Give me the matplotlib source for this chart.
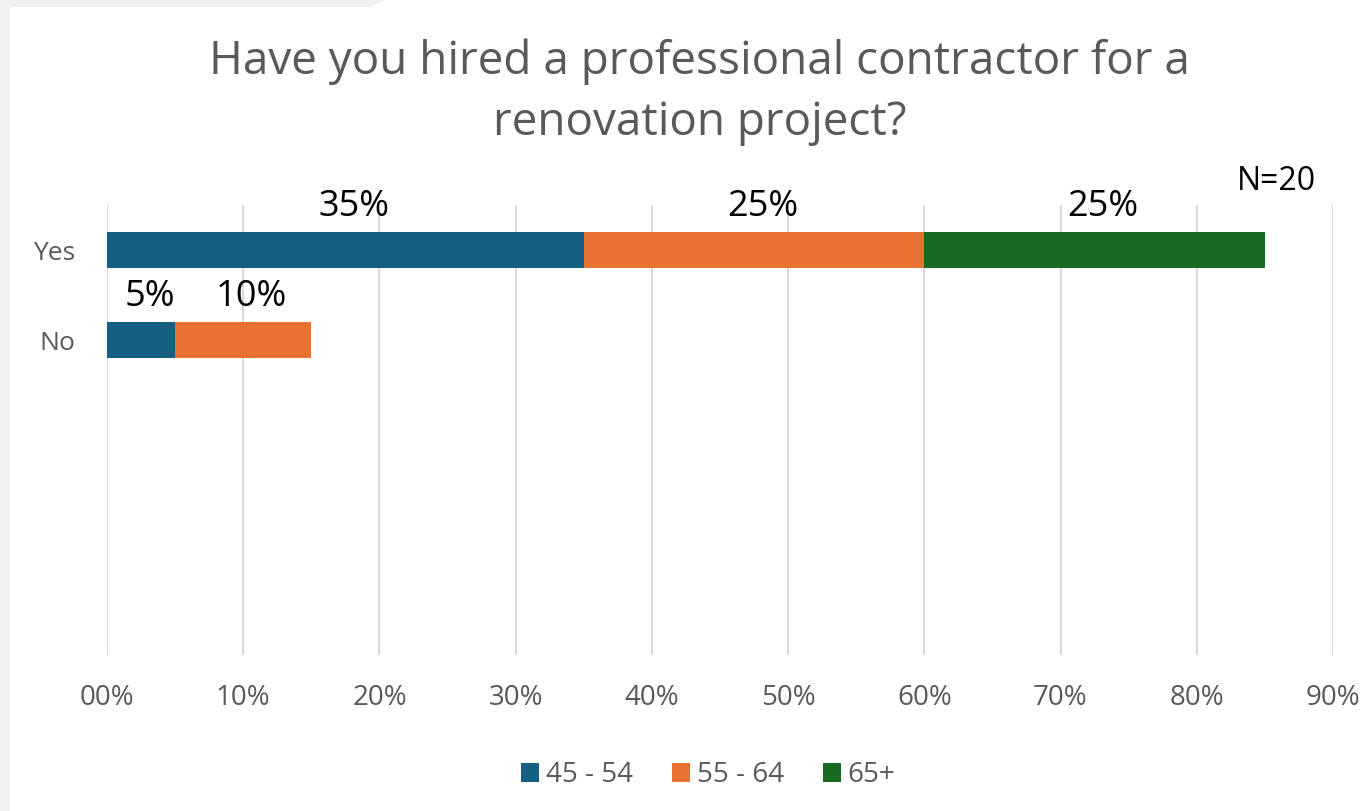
import matplotlib.pyplot as plt
from matplotlib.patches import Rectangle, Polygon
import numpy as np

# data
answers = ["Yes", "No"]
age_groups = ["45 - 54", "55 - 64", "65+"]
shares = {
    "45 - 54": [35, 5],
    "55 - 64": [25, 10],
    "65+": [25, 0],
}
x_ticks = [0, 10, 20, 30, 40, 50, 60, 70, 80, 90]
x_tick_labels = ["00%", "10%", "20%", "30%", "40%", "50%", "60%", "70%", "80%", "90%"]
n_note = "N=20"

colors = {"45 - 54": "#156082", "55 - 64": "#E97132", "65+": "#196B24"}
grey = "#595959"

plt.rcParams['font.family'] = ['Open Sans', 'DejaVu Sans']

fig = plt.figure(figsize=(13.67, 8.11), dpi=100)
fig.patch.set_facecolor("white")

# grey frame remnants of the screenshot
fig.patches.append(Rectangle((0, 0), 10 / 1367, 1, transform=fig.transFigure,
                             facecolor="#f0f0f0", edgecolor="none", zorder=0))
fig.patches.append(Polygon([(0, 1), (385 / 1367, 1), (370 / 1367, 1 - 7 / 811), (0, 1 - 7 / 811)],
                           closed=True, transform=fig.transFigure,
                           facecolor="#f0f0f0", edgecolor="none", zorder=0))

ax = fig.add_axes([107 / 1367, 1 - 655 / 811, 1226 / 1367, 450 / 811])

ypos = np.arange(len(answers))
left = np.zeros(len(answers))
bar_h = 0.39
for g in age_groups:
    vals = np.array(shares[g], dtype=float)
    ax.barh(ypos, vals, left=left, height=bar_h, color=colors[g], label=g, zorder=3)
    for i, v in enumerate(vals):
        if v > 0:
            ax.annotate(f"{v:.0f}%", (left[i] + v / 2, ypos[i]), xytext=(6, 31),
                        textcoords="offset points", ha="center", va="center",
                        fontsize=26, color="black")
    left += vals

ax.set_xlim(0, 90)
ax.set_ylim(4.5, -0.5)
ax.set_xticks(x_ticks)
ax.set_xticklabels(x_tick_labels, color=grey, fontsize=20)
ax.set_yticks(ypos)
ax.set_yticklabels(answers, color=grey, fontsize=19)
ax.tick_params(axis="both", length=0)
ax.tick_params(axis="x", pad=21)
ax.tick_params(axis="y", pad=23)
ax.grid(axis="x", color="#d9d9d9", linewidth=1.5, zorder=0)
for s in ax.spines.values():
    s.set_visible(False)

ax.text(1276 / 1367, 1 - 182 / 811, n_note, transform=fig.transFigure,
        ha="center", va="center", fontsize=23, color="black")

fig.text(0.512, 1 - 92 / 811, "Have you hired a professional contractor for a\nrenovation project?",
         ha="center", va="center", fontsize=33, color=grey, linespacing=1.42)

fig.legend(loc="center", bbox_to_anchor=(0.518, 1 - 775 / 811), ncol=3, frameon=False,
           fontsize=20, labelcolor=grey, handlelength=0.65, handleheight=0.65,
           handletextpad=0.25, columnspacing=1.4)

fig.savefig("out.png", dpi=100)
